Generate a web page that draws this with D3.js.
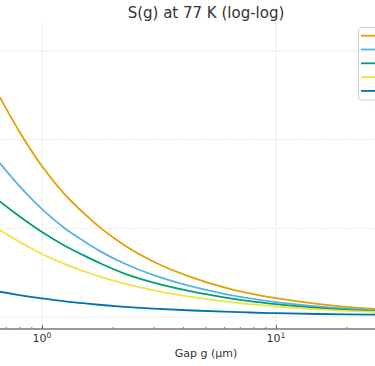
<!DOCTYPE html>
<html>
<head>
<meta charset="utf-8">
<script src="https://cdn.jsdelivr.net/npm/d3@7"></script>
<style>
  html, body { margin: 0; padding: 0; background: #fff; overflow: hidden; }
  text { font-family: "DejaVu Sans", sans-serif; fill: #333; }
</style>
</head>
<body>
<svg id="chart" width="375" height="366"></svg>
<script>
// ---- data ----
const gaps = [0.66, 0.8, 1, 1.25, 1.5, 1.8, 2.25, 3, 4.4, 6, 7.7, 10, 15, 20, 26.5];   // gap g (µm)
const seriesOrange = [302.7, 123.6, 50.2, 24.2, 15.04, 9.85, 6.44, 4.20, 2.78, 2.16, 1.846, 1.629, 1.405, 1.303, 1.231];
const seriesSky    = [54.6, 30.1, 16.48, 10.03, 7.25, 5.39, 4.01, 2.96, 2.196, 1.827, 1.621, 1.472, 1.317, 1.240, 1.184];
const seriesGreen  = [20.07, 13.67, 9.09, 6.37, 4.99, 3.96, 3.09, 2.44, 1.929, 1.663, 1.507, 1.394, 1.270, 1.206, 1.160];
const seriesYellow = [9.58, 7.05, 5.13, 3.94, 3.30, 2.81, 2.375, 2.001, 1.677, 1.499, 1.394, 1.313, 1.221, 1.175, 1.139];
const seriesBlue   = [1.929, 1.770, 1.621, 1.503, 1.431, 1.366, 1.303, 1.244, 1.184, 1.148, 1.124, 1.104, 1.081, 1.070, 1.062];
const seriesColors = ["#E69F00", "#56B4E9", "#009E73", "#F0E442", "#0072B2"];
const xMajorTicks = [1, 10];
const xMinorTicks = [0.7, 0.8, 0.9, 2, 3, 4, 5, 6, 7, 8, 9, 20, 30];
const yGridTicks = [1, 10, 100, 1000];
const titleText = "S(g) at 77 K (log-log)";
const xLabelText = "Gap g (μm)";

const allSeries = [seriesOrange, seriesSky, seriesGreen, seriesYellow, seriesBlue];

// ---- layout ----
const svg = d3.select("#chart");
const plotTop = 23, plotBottom = 329;
const x = d3.scaleLog().domain([1, 10]).range([42, 276]);
const y = d3.scaleLog().domain([1, 1000]).range([317, 51]);
const xLeft = x(0.55), xRight = x(40);

// gridlines
const grid = svg.append("g");
grid.selectAll("line.h").data(yGridTicks).join("line")
  .attr("x1", xLeft).attr("x2", xRight)
  .attr("y1", d => y(d)).attr("y2", d => y(d))
  .attr("stroke", "#d9d9d9").attr("stroke-width", 0.9)
  .attr("stroke-dasharray", "1.5,1.5");
grid.selectAll("line.v").data(xMajorTicks).join("line")
  .attr("x1", d => x(d)).attr("x2", d => x(d))
  .attr("y1", plotTop).attr("y2", plotBottom)
  .attr("stroke", "#d9d9d9").attr("stroke-width", 0.9)
  .attr("stroke-dasharray", "1.5,1.5");

// lines
const line = d3.line()
  .x((d, i) => x(gaps[i]))
  .y(d => y(d))
  .curve(d3.curveMonotoneX);
svg.append("g").selectAll("path").data(allSeries).join("path")
  .attr("d", d => line(d))
  .attr("fill", "none")
  .attr("stroke", (d, i) => seriesColors[i])
  .attr("stroke-width", 1.8);

// x axis (inward ticks)
const axisG = svg.append("g").attr("transform", `translate(0,${plotBottom})`);
const majorAxis = d3.axisBottom(x).tickValues(xMajorTicks).tickSizeInner(-4).tickSizeOuter(0).tickFormat("");
const minorAxis = d3.axisBottom(x).tickValues(xMinorTicks).tickSizeInner(-2).tickSizeOuter(0).tickFormat("");
axisG.append("g").call(minorAxis).call(g => g.select(".domain").remove())
  .selectAll("line").attr("stroke", "#555").attr("stroke-width", 0.8);
axisG.append("g").call(majorAxis).call(g => g.select(".domain").remove())
  .selectAll("line").attr("stroke", "#555").attr("stroke-width", 0.9);
axisG.append("line")
  .attr("x1", xLeft).attr("x2", xRight).attr("y1", 0).attr("y2", 0)
  .attr("stroke", "#777").attr("stroke-width", 1.6);

// tick labels 10^n
const tl = svg.append("g").selectAll("text").data(xMajorTicks).join("text")
  .attr("x", d => x(d)).attr("y", 342)
  .attr("text-anchor", "middle").attr("font-size", 11);
tl.append("tspan").text("10");
tl.append("tspan").attr("font-size", 7.7).attr("dy", -4.5)
  .text(d => String(Math.round(Math.log10(d))));

// axis label
svg.append("text").attr("x", 206).attr("y", 357)
  .attr("text-anchor", "middle").attr("font-size", 11).text(xLabelText);

// title
svg.append("text").attr("x", 206).attr("y", 18)
  .attr("text-anchor", "middle").attr("font-size", 15).text(titleText);

// legend (cut off at right edge)
const leg = svg.append("g");
leg.append("rect").attr("x", 358.5).attr("y", 27.5).attr("width", 110).attr("height", 72.5)
  .attr("rx", 3).attr("fill", "#fff").attr("fill-opacity", 0.85)
  .attr("stroke", "#ccc").attr("stroke-width", 1);
leg.selectAll("line").data(seriesColors).join("line")
  .attr("x1", 361).attr("x2", 385)
  .attr("y1", (d, i) => 35.7 + i * 13.8).attr("y2", (d, i) => 35.7 + i * 13.8)
  .attr("stroke", d => d).attr("stroke-width", 1.8);
</script>
</body>
</html>
